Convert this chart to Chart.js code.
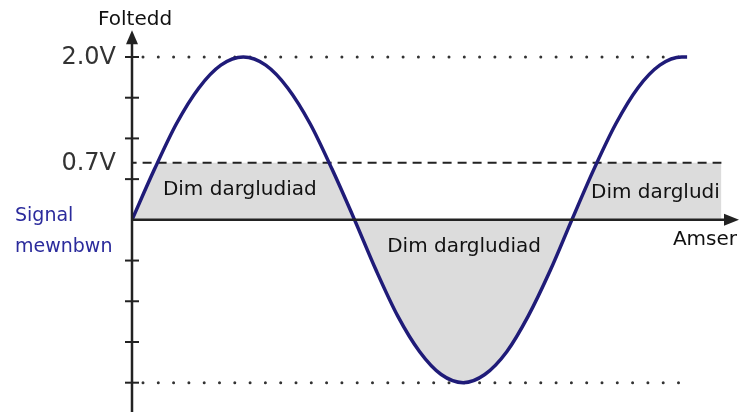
<!DOCTYPE html>
<html>
<head>
<meta charset="utf-8">
<script src="https://cdn.jsdelivr.net/npm/chart.js@4"></script>
<style>
  body { margin: 0; background: #fff; }
</style>
</head>
<body>
<canvas id="myChart" width="740" height="412"></canvas>
<script>
// input signal (about 10 time units per period)
var time = [0, 0.51, 1.01, 1.52, 2.02, 2.53, 3.04, 3.54, 4.05, 4.55, 5.06, 5.55, 6.04, 6.54, 7.03, 7.53, 8.02, 8.52, 9.01, 9.51, 10.0, 10.5, 11, 11.5, 12, 12.5, 12.62];
var voltage = [0, 0.62, 1.18, 1.62, 1.9, 2.0, 1.9, 1.62, 1.18, 0.62, 0, -0.62, -1.18, -1.62, -1.9, -2.0, -1.9, -1.62, -1.18, -0.62, 0, 0.62, 1.18, 1.62, 1.9, 2.0, 2.0];

// grey "no conduction" region
var greyTime = [0, 0.51, 0.58, 4.48, 4.55, 5.06, 5.55, 6.04, 6.54, 7.03, 7.53, 8.02, 8.52, 9.01, 9.51, 10.0, 10.5, 10.57, 13.4];
var greyVoltage = [0, 0.62, 0.7, 0.7, 0.62, 0, -0.62, -1.18, -1.62, -1.9, -2.0, -1.9, -1.62, -1.18, -0.62, 0, 0.62, 0.7, 0.7];

var threshold = 0.7;
var peak = 2.0;
var yTicks = [-2, -1.5, -1, -0.5, 0, 0.5, 1, 1.5, 2];
var tickLabels = { "2": "2.0V", "0.7": "0.7V" };
var regionLabels = ["Dim dargludiad", "Dim dargludiad", "Dim dargludi"];

var FONT = '"Comic Sans MS", "DejaVu Sans", sans-serif';

function pts(xs, ys) {
  return xs.map(function (x, i) { return { x: x, y: ys[i] }; });
}

var axesPlugin = {
  id: 'arrowAxes',
  afterDatasetsDraw: function (chart) {
    var c = chart.ctx, xs = chart.scales.x, ys = chart.scales.y;
    var x0 = xs.getPixelForValue(0), y0 = ys.getPixelForValue(0);
    c.save();
    c.strokeStyle = '#222';
    c.fillStyle = '#222';
    c.lineWidth = 2.5;
    // y axis
    var yTop = ys.getPixelForValue(2.33);
    c.beginPath();
    c.moveTo(x0, yTop + 10);
    c.lineTo(x0, chart.height);
    c.stroke();
    c.beginPath();
    c.moveTo(x0, yTop);
    c.lineTo(x0 - 6, yTop + 14);
    c.lineTo(x0 + 6, yTop + 14);
    c.closePath();
    c.fill();
    // ticks
    c.lineWidth = 2;
    yTicks.forEach(function (v) {
      if (v === 0) return;
      var py = ys.getPixelForValue(v);
      c.beginPath();
      c.moveTo(x0 - 7, py);
      c.lineTo(x0 + 7, py);
      c.stroke();
    });
    // x axis
    var xEnd = xs.getPixelForValue(13.8);
    c.lineWidth = 2.5;
    c.beginPath();
    c.moveTo(x0, y0);
    c.lineTo(xEnd - 10, y0);
    c.stroke();
    c.beginPath();
    c.moveTo(xEnd, y0);
    c.lineTo(xEnd - 15, y0 - 6);
    c.lineTo(xEnd - 15, y0 + 6);
    c.closePath();
    c.fill();

    // texts
    c.fillStyle = '#333';
    c.textBaseline = 'middle';
    c.font = '24px ' + FONT;
    c.textAlign = 'right';
    Object.keys(tickLabels).forEach(function (k) {
      c.fillText(tickLabels[k], x0 - 16, ys.getPixelForValue(parseFloat(k)) + 1);
    });
    c.fillStyle = '#111';
    c.font = '20px ' + FONT;
    c.textAlign = 'center';
    c.fillText('Foltedd', xs.getPixelForValue(0.07), ys.getPixelForValue(2.46));
    c.textAlign = 'right';
    c.fillText('Amser', xEnd - 2, ys.getPixelForValue(-0.25));
    c.textAlign = 'center';
    c.fillText(regionLabels[0], xs.getPixelForValue(2.45), ys.getPixelForValue(0.37));
    c.fillText(regionLabels[1], xs.getPixelForValue(7.55), ys.getPixelForValue(-0.33));
    c.fillText(regionLabels[2], xs.getPixelForValue(11.9), ys.getPixelForValue(0.33));
    c.fillStyle = '#2b2b9c';
    c.font = '19px ' + FONT;
    c.textAlign = 'left';
    c.fillText('Signal', 15, ys.getPixelForValue(0.05));
    c.fillText('mewnbwn', 15, ys.getPixelForValue(-0.33));
    c.restore();
  }
};

var ctx = document.getElementById("myChart");
var myChart = new Chart(ctx, {
  type: 'line',
  data: {
    datasets: [
      {
        data: pts(time, voltage),
        borderColor: '#1f1b78',
        borderWidth: 3.5,
        pointRadius: 0,
        cubicInterpolationMode: 'monotone',
        fill: false,
        order: 0
      },
      {
        data: pts([-0.1, 13.4], [threshold, threshold]),
        borderColor: '#222',
        borderWidth: 2,
        borderDash: [9, 6],
        pointRadius: 0,
        fill: false,
        order: 1
      },
      {
        data: pts([0.25, 12.6], [peak, peak]),
        borderColor: '#333',
        borderWidth: 3,
        borderDash: [0, 15.3],
        borderCapStyle: 'round',
        pointRadius: 0,
        fill: false,
        order: 2
      },
      {
        data: pts([0.25, 12.6], [-peak, -peak]),
        borderColor: '#333',
        borderWidth: 3,
        borderDash: [0, 15.3],
        borderCapStyle: 'round',
        pointRadius: 0,
        fill: false,
        order: 2
      },
      {
        data: pts(greyTime, greyVoltage),
        borderWidth: 0,
        borderColor: 'rgba(0,0,0,0)',
        backgroundColor: '#dcdcdc',
        pointRadius: 0,
        cubicInterpolationMode: 'monotone',
        fill: 'origin',
        order: 3
      }
    ]
  },
  options: {
    responsive: false,
    animation: false,
    layout: { padding: { left: 132, right: 1, top: 0, bottom: 0 } },
    plugins: { legend: { display: false }, tooltip: { enabled: false } },
    scales: {
      x: { type: 'linear', min: 0, max: 13.8, display: false },
      y: { type: 'linear', min: -2.36, max: 2.7, display: false }
    }
  },
  plugins: [axesPlugin]
});
</script>
</body>
</html>
